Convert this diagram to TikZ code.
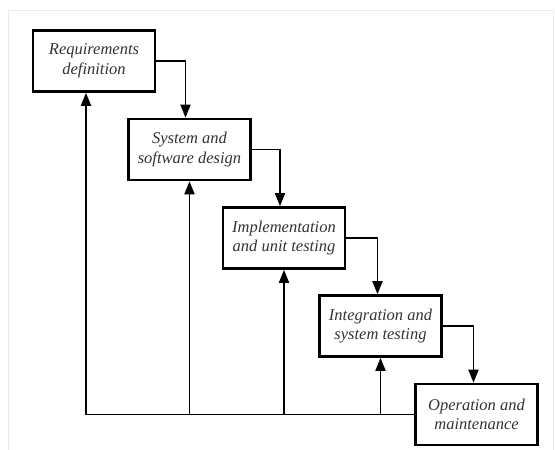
\documentclass[tikz,border=0pt]{standalone}
\usepackage{fontspec}
\setmainfont{Liberation Serif}
\usetikzlibrary{arrows.meta,calc}

\begin{document}
\begin{tikzpicture}[x=1pt,y=-1pt,
		phase/.style={draw, line width=2.6pt, minimum width=122pt, minimum height=61pt, align=center, font=\itshape\fontsize{16.5}{19.5}\selectfont, text=black!80, inner sep=1pt},
		flow/.style={line width=1.8pt, -{Triangle[length=13pt,width=10pt]}}]
			\useasboundingbox (0,0) rectangle (555,450);
			\draw[black!8, line width=1pt] (8,450) -- (8,10) -- (553,10) -- (553,450);
			\node[phase] (req) at (94,61) {Requirements\\definition};
			\node[phase] (design) at (189.5,149.5) {System and\\software design};
			\node[phase] (impl) at (284,238) {Implementation\\and unit testing};
			\node[phase] (integ) at (380.5,326) {Integration and\\system testing};
			\node[phase] (oper) at (476.5,414.5) {Operation and\\maintenance};
			\coordinate (back) at (86,414.5);
			\draw[flow] (req.east) -| ([xshift=-4pt]design.north);
			\draw[flow] (design.east) -| ([xshift=-4pt]impl.north);
			\draw[flow] (impl.east) -| ([xshift=-3pt]integ.north);
			\draw[flow] (integ.east) -| ([xshift=-3pt]oper.north);
			\draw[flow] (oper.west) -- (back) -- (back |- req.south);
			\draw[flow] (back -| design.south) -- (design.south);
			\draw[flow] (back -| impl.south) -- (impl.south);
			\draw[flow] (back -| integ.south) -- (integ.south);
		\end{tikzpicture}
\end{document}
